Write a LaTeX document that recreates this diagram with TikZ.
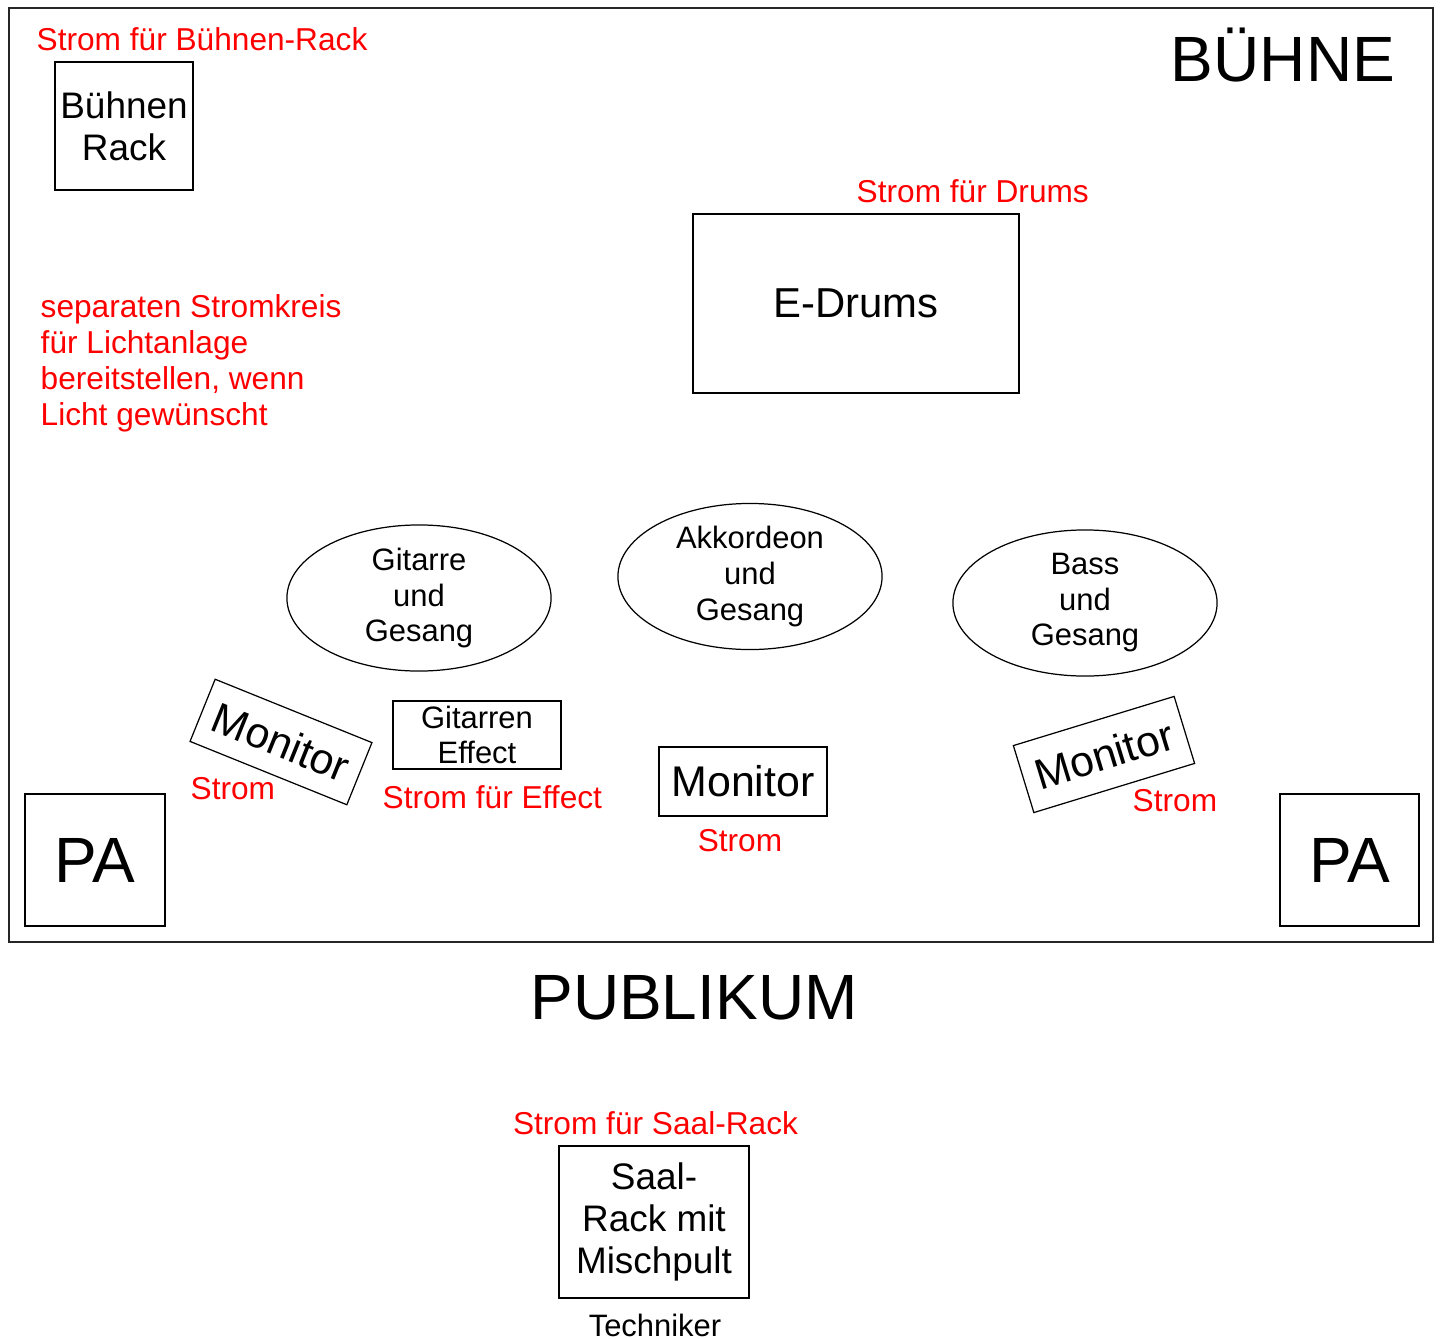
\documentclass[tikz,border=0pt]{standalone}
\usepackage{fontspec}
\setmainfont{Liberation Sans}
\usetikzlibrary{shapes.geometric}

\begin{document}
\begin{tikzpicture}[x=0.01cm,y=-0.01cm,
		box/.style={draw,line width=0.35pt,inner sep=0pt,align=center},
		player/.style={draw,ellipse,line width=0.35pt,inner sep=0pt,
			minimum width=2.64cm,minimum height=1.46cm,align=center,
			font=\fontsize{8.8pt}{10.1pt}\selectfont},
		power/.style={text=red,inner sep=0pt,align=left,
			font=\fontsize{9pt}{10.25pt}\selectfont},
		big/.style={font=\fontsize{18.2pt}{21pt}\selectfont}]
		\useasboundingbox (0,0) rectangle (1441,1339);
		
		% Buehne
		\draw[line width=0.6pt,black!85] (9,8) rectangle (1433,942);
		\node[big] (buehne) at (1283,55) {BÜHNE};
		\node[big] (publikum) at (694,998) {PUBLIKUM};
		
		\node[box,minimum width=1.38cm,minimum height=1.28cm,
			font=\fontsize{10.5pt}{11.95pt}\selectfont] (rack) at (124,126) {Bühnen\\Rack};
		\node[power,anchor=west] (srack) at (36,39) {Strom für Bühnen-Rack};
		
		\node[box,minimum width=3.26cm,minimum height=1.79cm,
			font=\fontsize{11.9pt}{14pt}\selectfont] (drums) at (856,303.5) {E-Drums};
		\node[power,anchor=west] (sdrums) at (856,191) {Strom für Drums};
		
		\node[power,anchor=north west] (licht) at (40,294)
			{separaten Stromkreis\\für Lichtanlage\\bereitstellen, wenn\\Licht gewünscht};
		
		% Musiker
		\node[player] (gitarre) at (419,598) {Gitarre\\und\\Gesang};
		\node[player] (akkordeon) at (750,576.5) {Akkordeon\\und\\Gesang};
		\node[player] (bass) at (1085,603) {Bass\\und\\Gesang};
		
		% Monitore
		\node[box,minimum width=1.69cm,minimum height=0.67cm,rotate=-22,
			font=\fontsize{12.2pt}{14pt}\selectfont] (monl) at (281,742) {Monitor};
		\node[box,minimum width=1.68cm,minimum height=0.69cm,
			font=\fontsize{12.2pt}{14pt}\selectfont] (monm) at (743,781.5) {Monitor};
		\node[box,minimum width=1.68cm,minimum height=0.70cm,rotate=17,
			font=\fontsize{12.2pt}{14pt}\selectfont] (monr) at (1104,754.5) {Monitor};
		\node[power,anchor=west] (smonl) at (190,789) {Strom};
		\node[power] (smonm) at (740,841) {Strom};
		\node[power,anchor=west] (smonr) at (1132,801) {Strom};
		
		\node[box,minimum width=1.68cm,minimum height=0.68cm,
			font=\fontsize{8.8pt}{10pt}\selectfont] (effect) at (477,735) {Gitarren\\Effect};
		\node[power,anchor=west] (seffect) at (382,797) {Strom für Effect};
		
		% PA
		\node[box,big,minimum width=1.40cm,minimum height=1.32cm] (pal) at (95,860) {PA};
		\node[box,big,minimum width=1.39cm,minimum height=1.32cm] (par) at (1349.5,860) {PA};
		
		% Saal
		\node[box,minimum width=1.90cm,minimum height=1.52cm,
			font=\fontsize{10.5pt}{11.85pt}\selectfont] (saal) at (654,1222) {Saal-\\Rack mit\\Mischpult};
		\node[power] (ssaal) at (655.5,1123) {Strom für Saal-Rack};
		\node[font=\fontsize{8.8pt}{10pt}\selectfont,inner sep=0pt] (techniker) at (655,1325) {Techniker};
	\end{tikzpicture}
\end{document}
